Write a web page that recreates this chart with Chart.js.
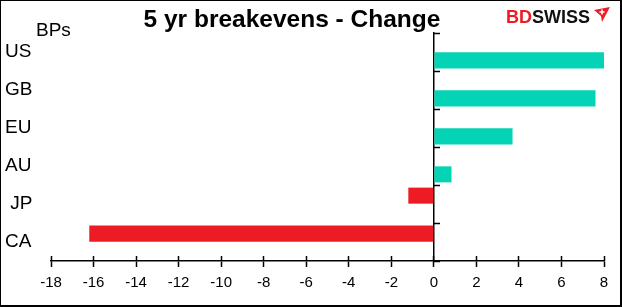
<!DOCTYPE html>
<html>
<head>
<meta charset="utf-8">
<script src="https://cdn.jsdelivr.net/npm/chart.js@4/dist/chart.umd.min.js"></script>
<style>
  html, body { margin: 0; padding: 0; background: #fff; }
  #wrap { position: relative; width: 622px; height: 307px; overflow: hidden; font-family: "Liberation Sans", Arial, sans-serif; }
  #c { position: absolute; left: 0; top: 0; }
  #frame { position: absolute; left: 0; top: 0; width: 622px; height: 307px; box-sizing: border-box;
           border-style: solid; border-color: #000; border-width: 1px 2px 2px 1px; pointer-events: none; }
  #title { position: absolute; left: 0; width: 584px; top: 7px; text-align: center;
           font-weight: bold; font-size: 24.5px; line-height: 24px; color: #000; white-space: nowrap; }
  #unit { position: absolute; left: 36px; top: 20px; font-size: 19px; line-height: 19px; color: #000; }
  #logo { position: absolute; left: 506px; top: 8px; font-weight: bold; font-size: 18px; line-height: 18px; white-space: nowrap; }
  #logo .bd { color: #ED1C24; }
  #logo .sw { color: #111; }
  #logo svg { position: absolute; left: 87px; top: -1px; }
</style>
</head>
<body>
<div id="wrap">
  <canvas id="c" width="622" height="307"></canvas>
  <div id="title">5 yr breakevens - Change</div>
  <div id="unit">BPs</div>
  <div id="logo"><span class="bd">BD</span><span class="sw">SWISS</span><svg width="18" height="16" viewBox="0 0 18 16"><polygon points="1,3 17,0 9,15 8,9" fill="#ED1C24"/><path d="M9 2.5 V7.5 M6.5 5 H11.5" stroke="#fff" stroke-width="1.6"/></svg></div>
  <div id="frame"></div>
</div>
<script>
const categories = ['US', 'GB', 'EU', 'AU', ' JP', 'CA'];
const negativeChanges = [null, null, null, null, -1.2, -16.2];
const positiveChanges = [8.0, 7.6, 3.7, 0.83, null, null];
const xMin = -18;
const xMax = 8;
const xStep = 2;

const FONT = '"Liberation Sans", Arial, sans-serif';

new Chart(document.getElementById('c'), {
  type: 'bar',
  data: {
    labels: categories,
    datasets: [
      { label: 'Negative', data: negativeChanges, backgroundColor: '#ED1C24', borderWidth: 0,
        categoryPercentage: 0.88, barPercentage: 0.96, yAxisID: 'y', xAxisID: 'x' },
      { label: 'Positive', data: positiveChanges, backgroundColor: '#05D3B6', borderWidth: 0,
        categoryPercentage: 0.88, barPercentage: 0.96, yAxisID: 'y', xAxisID: 'x' }
    ]
  },
  options: {
    indexAxis: 'y',
    responsive: false,
    animation: false,
    layout: { padding: { top: 33, left: 5, right: 18, bottom: 0 } },
    plugins: { legend: { display: false }, title: { display: false }, tooltip: { enabled: false } },
    scales: {
      x: {
        type: 'linear', axis: 'x', position: 'bottom', min: xMin, max: xMax,
        ticks: { stepSize: xStep, color: '#000', font: { family: FONT, size: 15 }, padding: 7, maxRotation: 0 },
        grid: { drawOnChartArea: false, drawTicks: true, tickLength: 6, tickColor: '#000', tickWidth: 1.5 },
        border: { display: true, color: '#000', width: 1.5 },
        afterFit(s) { s.height = 46; }
      },
      x2: {
        type: 'linear', axis: 'x', position: { y: categories.length - 0.5 }, min: xMin, max: xMax,
        ticks: { display: false, stepSize: xStep },
        grid: { drawOnChartArea: false, drawTicks: true, tickLength: -5, tickColor: '#000', tickWidth: 1.5 },
        border: { display: false }
      },
      y: {
        type: 'category', axis: 'y', position: 'left', offset: true,
        grid: { display: false },
        border: { display: false },
        ticks: { crossAlign: 'far', color: '#000', font: { family: FONT, size: 19 }, padding: 0, autoSkip: false },
        afterFit(s) { s.width = 46; }
      },
      y2: {
        type: 'category', axis: 'y', position: { x: 0 }, offset: true,
        ticks: { display: false },
        grid: { offset: true, drawOnChartArea: false, drawTicks: true, tickLength: -7, tickColor: '#000', tickWidth: 1.5 },
        border: { display: true, color: '#000', width: 1.5 }
      }
    }
  }
});
</script>
</body>
</html>
